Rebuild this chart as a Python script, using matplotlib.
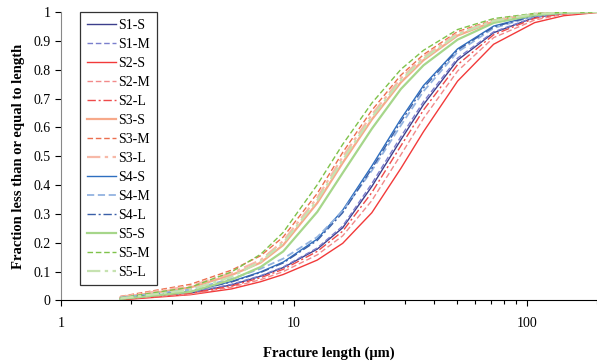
import numpy as np
import matplotlib
matplotlib.use("Agg")
import matplotlib.pyplot as plt

# fracture length (um) at which the cumulative fractions are read
lengths = [1.8, 3.6, 5.4, 7.2, 9, 12.6, 16.2, 21.6, 28.8, 36, 50.4, 72, 108, 144, 200]

# cumulative fraction per sample
s1_s = [0.007, 0.026, 0.054, 0.084, 0.114, 0.178, 0.252, 0.395, 0.557, 0.679, 0.833, 0.928, 0.981, 0.995, 1.0]
s1_m = [0.008, 0.027, 0.056, 0.086, 0.116, 0.182, 0.258, 0.405, 0.568, 0.689, 0.840, 0.931, 0.982, 0.995, 1.0]
s2_s = [0.002, 0.020, 0.040, 0.065, 0.090, 0.140, 0.198, 0.304, 0.458, 0.585, 0.760, 0.888, 0.963, 0.987, 0.998]
s2_m = [0.005, 0.022, 0.046, 0.072, 0.100, 0.158, 0.224, 0.346, 0.505, 0.631, 0.795, 0.911, 0.972, 0.992, 0.999]
s2_l = [0.006, 0.025, 0.050, 0.079, 0.108, 0.170, 0.240, 0.374, 0.536, 0.660, 0.817, 0.921, 0.978, 0.994, 0.999]
s3_s = [0.010, 0.045, 0.088, 0.131, 0.192, 0.338, 0.477, 0.627, 0.756, 0.833, 0.918, 0.967, 0.992, 0.998, 1.0]
s3_m = [0.014, 0.056, 0.105, 0.155, 0.220, 0.371, 0.513, 0.659, 0.781, 0.852, 0.932, 0.972, 0.994, 0.999, 1.0]
s3_l = [0.012, 0.050, 0.095, 0.140, 0.206, 0.356, 0.498, 0.644, 0.770, 0.844, 0.926, 0.970, 0.993, 0.998, 1.0]
s4_s = [0.007, 0.030, 0.066, 0.099, 0.133, 0.213, 0.313, 0.466, 0.629, 0.745, 0.872, 0.951, 0.988, 0.998, 1.0]
s4_m = [0.010, 0.038, 0.075, 0.110, 0.145, 0.220, 0.310, 0.450, 0.607, 0.725, 0.861, 0.944, 0.986, 0.997, 1.0]
s4_l = [0.008, 0.032, 0.064, 0.097, 0.130, 0.208, 0.304, 0.457, 0.620, 0.737, 0.868, 0.948, 0.987, 0.997, 1.0]
s5_s = [0.005, 0.030, 0.072, 0.116, 0.170, 0.307, 0.442, 0.595, 0.733, 0.815, 0.904, 0.962, 0.989, 0.997, 1.0]
s5_m = [0.009, 0.046, 0.099, 0.160, 0.236, 0.401, 0.541, 0.684, 0.801, 0.867, 0.939, 0.977, 0.995, 0.999, 1.0]
s5_l = [0.007, 0.037, 0.082, 0.135, 0.199, 0.347, 0.487, 0.635, 0.763, 0.838, 0.922, 0.969, 0.993, 0.998, 1.0]

labels = ["S1-S", "S1-M", "S2-S", "S2-M", "S2-L", "S3-S", "S3-M", "S3-L",
          "S4-S", "S4-M", "S4-L", "S5-S", "S5-M", "S5-L"]
series = [s1_s, s1_m, s2_s, s2_m, s2_l, s3_s, s3_m, s3_l,
          s4_s, s4_m, s4_l, s5_s, s5_m, s5_l]

# (colour, linestyle, width)
styles = [
    ("#3c3f8c", "-", 1.0),
    ("#7a7fcc", (0, (4, 2)), 1.0),
    ("#f23a3a", "-", 1.0),
    ("#f28a8a", (0, (4, 2)), 1.0),
    ("#ee4a4a", (0, (6, 2, 1.5, 2)), 1.0),
    ("#f7a98a", "-", 1.6),
    ("#ec6f4f", (0, (4, 2)), 1.0),
    ("#f7b9a8", (0, (6, 2, 1.5, 2)), 1.6),
    ("#2e6fc0", "-", 1.0),
    ("#93b3e0", (0, (4, 2)), 1.3),
    ("#3a5fa8", (0, (6, 2, 1.5, 2)), 1.0),
    ("#a6d68a", "-", 1.6),
    ("#7fc24a", (0, (4, 2)), 1.0),
    ("#c6e2b0", (0, (6, 2, 1.5, 2)), 1.6),
]

plt.rcParams['font.family'] = ['Liberation Serif', 'DejaVu Serif']

fig = plt.figure(figsize=(5.97, 3.62), dpi=100)
ax = fig.add_axes([0.102, 0.170, 0.898, 0.797])

for lab, vals, (col, ls, lw) in zip(labels, series, styles):
    ax.plot(lengths, vals, color=col, linestyle=ls, linewidth=lw, label=lab)

ax.set_xscale('log')
ax.set_xlim(1, 200)
ax.set_ylim(0, 1)
ax.set_yticks(np.arange(0, 1.01, 0.1))
ax.set_yticklabels(["0", "0.1", "0.2", "0.3", "0.4", "0.5", "0.6", "0.7", "0.8", "0.9", "1"])
ax.set_xticks([1, 10, 100])
ax.set_xticklabels(["1", "10", "100"])
ax.tick_params(axis='both', labelsize=10, direction='out', length=4, width=0.8)
ax.tick_params(axis='x', which='minor', length=3, width=0.8)
ax.tick_params(axis='x', pad=8)

for side in ['top', 'right']:
    ax.spines[side].set_visible(False)
ax.spines['left'].set_color('#888888')
ax.spines['bottom'].set_color('black')

ax.set_xlabel("Fracture length (μm)", fontsize=10.5, fontweight='bold', labelpad=12)
ax.set_ylabel("Fraction less than or equal to length", fontsize=10.5, fontweight='bold', labelpad=6)

leg = ax.legend(loc='upper left', bbox_to_anchor=(0.035, 1.0), fontsize=10,
                handlelength=2.1, labelspacing=0.43, borderpad=0.5,
                borderaxespad=0.0, handletextpad=0.2, fancybox=False, framealpha=1)
leg.get_frame().set_edgecolor('#333333')
leg.get_frame().set_linewidth(0.9)

fig.savefig('out.png', dpi=100)
